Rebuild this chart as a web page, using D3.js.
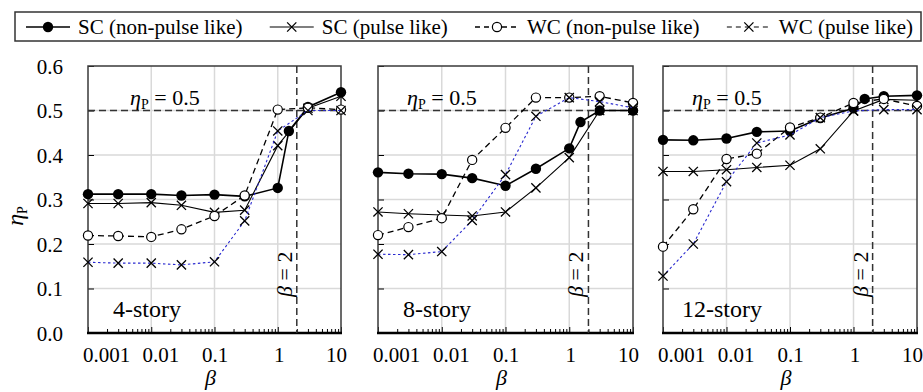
<!DOCTYPE html>
<html><head><meta charset="utf-8">
<script src="https://cdn.jsdelivr.net/npm/d3@7"></script>
<style>body{margin:0;background:#fff}svg{display:block}</style>
</head><body><svg id="c" width="923" height="392"></svg>
<script>
// ---------- data ----------
const panelNames = ["4-story", "8-story", "12-story"];
const betaBase = [0.001, 0.003, 0.01, 0.03, 0.1, 0.3, 1, 3, 10];
const betaSCnp = [0.001, 0.003, 0.01, 0.03, 0.1, 0.3, 1, 1.5, 3, 10];
const xTickValues = [0.001, 0.01, 0.1, 1, 10];
const xTickLabels = ["0.001", "0.01", "0.1", "1", "10"];
const yTickValues = [0.0, 0.1, 0.2, 0.3, 0.4, 0.5, 0.6];
const seriesNames = ["SC (non-pulse like)", "SC (pulse like)", "WC (non-pulse like)", "WC (pulse like)"];
const refEta = 0.5;
const refBeta = 2;

const scNonPulse = [
  [0.312, 0.312, 0.312, 0.309, 0.311, 0.307, 0.326, 0.454, 0.508, 0.541],
  [0.361, 0.358, 0.357, 0.348, 0.331, 0.369, 0.415, 0.474, 0.500, 0.500],
  [0.434, 0.433, 0.437, 0.452, 0.454, 0.483, 0.505, 0.526, 0.532, 0.534]
];
const scPulse = [
  [0.291, 0.291, 0.293, 0.287, 0.271, 0.276, 0.421, 0.505, 0.532],
  [0.272, 0.268, 0.265, 0.263, 0.272, 0.326, 0.394, 0.500, 0.500],
  [0.363, 0.363, 0.367, 0.372, 0.377, 0.414, 0.499, 0.525, 0.523]
];
const wcNonPulse = [
  [0.219, 0.218, 0.216, 0.233, 0.263, 0.309, 0.502, 0.506, 0.502],
  [0.220, 0.238, 0.258, 0.389, 0.461, 0.529, 0.529, 0.532, 0.517],
  [0.194, 0.278, 0.391, 0.403, 0.462, 0.484, 0.517, 0.526, 0.510]
];
const wcPulse = [
  [0.159, 0.157, 0.157, 0.153, 0.160, 0.252, 0.454, 0.500, 0.500],
  [0.177, 0.176, 0.183, 0.253, 0.356, 0.487, 0.529, 0.520, 0.506],
  [0.128, 0.200, 0.340, 0.427, 0.445, 0.484, 0.499, 0.502, 0.502]
];

// ---------- layout / style ----------
const FONT = "Liberation Serif";
const panelLeft = [88, 378, 663];
const panelRight = [341, 633, 917];
const plotTop = 66, plotBottom = 333;
const xLabelDx = [18, 9, 0, 1, -5];
const etaLabelDx = [42, 29, 29];
const styles = [
  {key: "scnp", stroke: "#000", width: 1.6, dash: null, marker: "dot"},
  {key: "scp", stroke: "#000", width: 1.1, dash: null, marker: "x"},
  {key: "wcnp", stroke: "#000", width: 1.3, dash: "6,4", marker: "circle"},
  {key: "wcp", stroke: "#2a2ad0", width: 1.1, dash: "2.5,2.5", marker: "x"}
];

const svg = d3.select("#c").attr("font-family", FONT);
const y = d3.scaleLinear().domain([0, 0.6]).range([plotBottom, plotTop]);

function drawMarker(g, type, cx, cy) {
  if (type === "dot") {
    g.append("circle").attr("cx", cx).attr("cy", cy).attr("r", 5.2).attr("fill", "#000");
  } else if (type === "circle") {
    g.append("circle").attr("cx", cx).attr("cy", cy).attr("r", 4.6)
      .attr("fill", "#fff").attr("stroke", "#000").attr("stroke-width", 1.2);
  } else {
    const s = 4.6;
    g.append("path").attr("d", `M${cx - s},${cy - s}L${cx + s},${cy + s}M${cx - s},${cy + s}L${cx + s},${cy - s}`)
      .attr("stroke", "#000").attr("stroke-width", 1.3).attr("fill", "none");
  }
}

panelNames.forEach((name, p) => {
  const x = d3.scaleLog().domain([0.001, 10]).range([panelLeft[p], panelRight[p]]);
  const g = svg.append("g");

  // grid
  yTickValues.slice(1, -1).forEach(v => {
    g.append("line").attr("x1", x.range()[0]).attr("x2", x.range()[1])
      .attr("y1", y(v)).attr("y2", y(v)).attr("stroke", "#d9d9d9").attr("stroke-width", 1.5);
  });
  xTickValues.slice(1, -1).forEach(v => {
    g.append("line").attr("x1", x(v)).attr("x2", x(v))
      .attr("y1", plotTop).attr("y2", plotBottom).attr("stroke", "#d9d9d9").attr("stroke-width", 1.5);
  });

  // x axis (ticks inside, pointing up)
  const minor = [];
  for (let d = 0.001; d < 10; d *= 10) for (let k = 2; k <= 9; k++) minor.push(+(d * k).toPrecision(3));
  const ax = g.append("g").attr("transform", `translate(0,${plotBottom})`)
    .call(d3.axisBottom(x).tickValues(minor).tickSize(-4).tickFormat(""));
  ax.select(".domain").remove();
  ax.selectAll(".tick line").attr("stroke", "#000").attr("stroke-width", 1);
  const xMaj = g.append("g").attr("transform", `translate(0,${plotBottom})`)
    .call(d3.axisBottom(x).tickValues(xTickValues).tickSize(-6).tickFormat((d, i) => xTickLabels[i]));
  xMaj.attr("font-family", FONT).attr("font-size", 21);
  xMaj.select(".domain").remove();
  xMaj.selectAll(".tick line").attr("stroke", "#000");
  xMaj.selectAll(".tick text").attr("y", 29).attr("dy", 0)
    .attr("dx", (d, i) => xLabelDx[i]).attr("fill", "#000");

  // y axis (ticks inside)
  const yAx = g.append("g").attr("transform", `translate(${x.range()[0]},0)`)
    .call(d3.axisLeft(y).tickValues(yTickValues).tickSize(-6).tickFormat(p === 0 ? d3.format(".1f") : ""));
  yAx.attr("font-family", FONT).attr("font-size", 21);
  yAx.select(".domain").remove();
  yAx.selectAll(".tick line").attr("stroke", "#000");
  yAx.selectAll(".tick text").attr("x", -25).attr("dy", "0.34em").attr("fill", "#000");

  // frame
  g.append("rect").attr("x", x.range()[0]).attr("y", plotTop)
    .attr("width", x.range()[1] - x.range()[0]).attr("height", plotBottom - plotTop)
    .attr("fill", "none").attr("stroke", "#3a3a3a").attr("stroke-width", 1.5);
  g.append("line").attr("x1", x.range()[0] - 1).attr("x2", x.range()[1] + 1)
    .attr("y1", plotBottom).attr("y2", plotBottom).attr("stroke", "#000").attr("stroke-width", 2.6);

  // reference lines
  g.append("line").attr("x1", x.range()[0]).attr("x2", x.range()[1])
    .attr("y1", y(refEta)).attr("y2", y(refEta))
    .attr("stroke", "#333").attr("stroke-width", 1.5).attr("stroke-dasharray", "7,4");
  g.append("line").attr("x1", x(refBeta)).attr("x2", x(refBeta))
    .attr("y1", plotTop).attr("y2", plotBottom)
    .attr("stroke", "#333").attr("stroke-width", 1.5).attr("stroke-dasharray", "7,4");

  // series
  const sets = [
    betaSCnp.map((b, i) => [b, scNonPulse[p][i]]),
    betaBase.map((b, i) => [b, scPulse[p][i]]),
    betaBase.map((b, i) => [b, wcNonPulse[p][i]]),
    betaBase.map((b, i) => [b, wcPulse[p][i]])
  ];
  const line = d3.line().x(d => x(d[0])).y(d => y(d[1]));
  sets.forEach((pts, s) => {
    const st = styles[s];
    const sg = g.append("g").attr("class", st.key);
    sg.append("path").attr("d", line(pts)).attr("fill", "none")
      .attr("stroke", st.stroke).attr("stroke-width", st.width)
      .attr("stroke-dasharray", st.dash);
    pts.forEach(d => drawMarker(sg, st.marker, x(d[0]), y(d[1])));
  });

  // annotations
  const eta = g.append("text").attr("x", x.range()[0] + etaLabelDx[p]).attr("y", y(refEta) - 6)
    .attr("font-size", 22);
  eta.append("tspan").text("η").attr("font-style", "italic");
  eta.append("tspan").text("P").attr("font-size", 14).attr("dy", 4);
  eta.append("tspan").text(" = 0.5").attr("dy", -4);

  const bx = x(refBeta) - 5, by = 297;
  const bt = g.append("text").attr("transform", `translate(${bx},${by}) rotate(-90)`)
    .attr("font-size", 22);
  bt.append("tspan").text("β").attr("font-style", "italic");
  bt.append("tspan").text(" = 2");

  g.append("text").attr("x", x.range()[0] + 59).attr("y", 317).attr("text-anchor", "middle")
    .attr("font-size", 24).text(name);

  g.append("text").attr("x", (x.range()[0] + x.range()[1]) / 2 - 4).attr("y", 385)
    .attr("text-anchor", "middle").attr("font-size", 22).attr("font-style", "italic").text("β");
});

// y title
const yt = svg.append("text").attr("transform", "translate(23,216) rotate(-90)")
  .attr("text-anchor", "middle").attr("font-size", 24);
yt.append("tspan").text("η").attr("font-style", "italic");
yt.append("tspan").text("P").attr("font-size", 14).attr("dy", 4);

// legend (entries flow across the box)
svg.append("rect").attr("x", 15).attr("y", 12).attr("width", 906).attr("height", 29)
  .attr("fill", "#fff").attr("stroke", "#333").attr("stroke-width", 1.5);
const legStart = 26, legEnd = 913, symW = 44, symGap = 8, cy = 27;
const items = seriesNames.map((nm, s) => {
  const lg = svg.append("g");
  const t = lg.append("text").attr("y", 34).attr("font-size", 21).text(nm);
  return {lg, t, w: t.node().getComputedTextLength()};
});
const totalW = d3.sum(items, d => symW + symGap + d.w);
const gap = (legEnd - legStart - totalW) / (items.length - 1);
let cx = legStart;
items.forEach((it, s) => {
  const st = styles[s];
  const x0 = cx, x1 = x0 + symW;
  it.lg.insert("line", "text").attr("x1", x0).attr("x2", x1).attr("y1", cy).attr("y2", cy)
    .attr("stroke", s === 3 ? "#000" : st.stroke).attr("stroke-width", st.width)
    .attr("stroke-dasharray", st.dash ? "5,4" : null);
  drawMarker(it.lg, st.marker, (x0 + x1) / 2, cy);
  it.t.attr("x", x1 + symGap);
  cx = x1 + symGap + it.w + gap;
});
</script></body></html>
